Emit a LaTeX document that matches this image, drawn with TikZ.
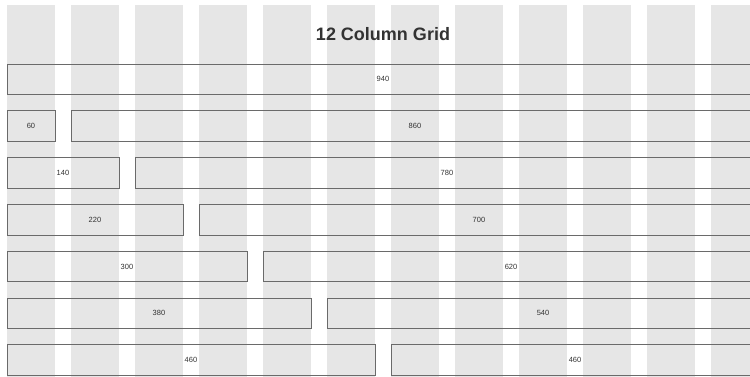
\documentclass[tikz,border=0pt]{standalone}
\usepackage{fontspec}
\setmainfont{Liberation Sans}
\usetikzlibrary{positioning}
\definecolor{colgray}{HTML}{E6E6E6}
\definecolor{edge}   {HTML}{6A6A6A}
\definecolor{ink}    {HTML}{333333}
\begin{document}
\begin{tikzpicture}[x=1pt,y=-1pt,
  span/.style={draw=edge, line width=0.8pt, anchor=north west, inner sep=0pt, outer sep=0pt,
               minimum height=30.5pt, font=\fontsize{7.5}{8}\selectfont, text=ink}]
  \clip (0,0) rectangle (750,377);
  % the twelve columns
  \foreach \c in {0,...,11}{\fill[colgray] ({7+64*\c},5) rectangle ({55+64*\c},377);}
  \node[font=\fontsize{18}{20}\selectfont\bfseries, text=ink] (title) at (383,34) {12 Column Grid};
  \node[span, minimum width=752pt] (full) at (7,64) {940};
  \foreach \w [count=\k] in {60,140,220,300,380,460}{
    \pgfmathsetmacro{\lw}{0.8*\w}
    \pgfmathsetmacro{\rw}{0.8*(920-\w)}
    \pgfmathtruncatemacro{\rn}{920-\w}
    \pgfmathsetmacro{\ty}{64+46.8*\k}
    \node[span, minimum width=\lw pt] (left\k) at (7,\ty) {\w};
    \node[span, minimum width=\rw pt, right=16pt of left\k] (right\k) {\rn};
  }
\end{tikzpicture}
\end{document}
